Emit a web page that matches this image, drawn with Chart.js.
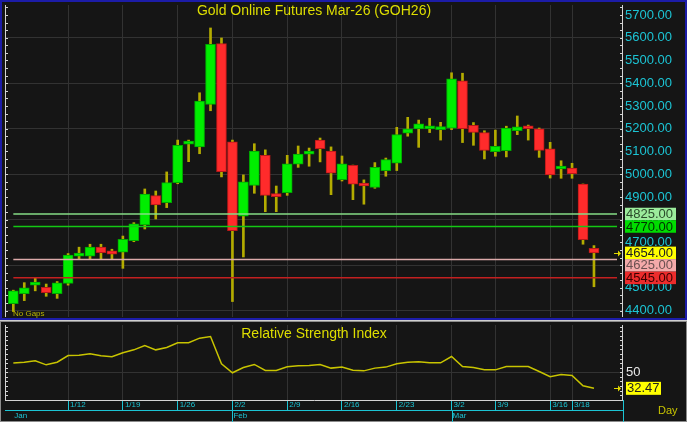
<!DOCTYPE html>
<html>
<head>
<meta charset="utf-8">
<script src="https://cdn.jsdelivr.net/npm/chart.js@4.4.1/dist/chart.umd.min.js"></script>
<style>
  html, body { margin: 0; padding: 0; background: #cfcfcf; width: 687px; height: 422px; overflow: hidden; }
  #frameMain { position: absolute; left: 0; top: 0; width: 683px; height: 316px; border: 2px solid #1c1ca8; background: #151515; }
  #frameRsi { position: absolute; left: 0; top: 321px; width: 685px; height: 99px; border: 1px solid #8c8c8c; background: #151515; }
  canvas { position: absolute; left: 0; }
  #mainChart { top: 0; }
  #rsiChart { top: 320px; }
</style>
</head>
<body>
<div id="frameMain"></div>
<div id="frameRsi"></div>
<canvas id="mainChart" width="687" height="320"></canvas>
<canvas id="rsiChart" width="687" height="102"></canvas>
<script>
/* ============================================================
   Gold Online Futures Mar-26 — daily candles + RSI
   ============================================================ */

const FONT = '"Liberation Sans", Arial, sans-serif';
const CYAN = '#1cc4d4';
const GRID = '#323232';
const AXIS = '#d4d4d4';

const chartTitle = 'Gold Online Futures Mar-26 (GOH26)';
const rsiTitle = 'Relative Strength Index';

// time axis
const weekLabels = ['1/12', '1/19', '1/26', '2/2', '2/9', '2/16', '2/23', '3/2', '3/9', '3/16', '3/18'];
const weekIdx    = [5, 10, 15, 20, 25, 30, 35, 40, 44, 49, 51];
const monthLabels = ['Jan', 'Feb', 'Mar'];
const monthIdx    = [0, 20, 40];

// daily OHLC
const opens  = [4431, 4475, 4512, 4503, 4475, 4520, 4640, 4639, 4679, 4663, 4657, 4708, 4777, 4906, 4875, 4963, 5132, 5120, 5307, 5574,
                5142, 4815, 4951, 5083, 4907, 4919, 5044, 5088, 5150, 5102, 4976, 5039, 4958, 4942, 5016, 5048, 5180, 5199, 5199, 5196,
                5202, 5411, 5215, 5183, 5099, 5103, 5191, 5206, 5199, 5111, 5023, 5027, 4956, 4674];
const highs  = [4490, 4523, 4544, 4517, 4528, 4651, 4679, 4692, 4692, 4670, 4728, 4787, 4935, 4926, 5010, 5150, 5150, 5358, 5643, 5599,
                5150, 4997, 5134, 5107, 4948, 5083, 5124, 5115, 5159, 5120, 5080, 5040, 4975, 5051, 5071, 5206, 5250, 5238, 5246, 5228,
                5446, 5444, 5227, 5191, 5194, 5211, 5256, 5216, 5203, 5140, 5059, 5048, 4957, 4686];
const lows   = [4396, 4444, 4487, 4463, 4454, 4512, 4626, 4627, 4626, 4626, 4586, 4703, 4759, 4803, 4853, 4958, 5055, 5090, 5279, 4988,
                4440, 4636, 4916, 4835, 4835, 4907, 5030, 5035, 5054, 4910, 4970, 4888, 4868, 4938, 4991, 5016, 5167, 5118, 5183, 5150,
                5196, 5139, 5127, 5067, 5079, 5076, 5174, 5150, 5074, 4983, 4982, 4982, 4692, 4505];
const closes = [4487, 4500, 4514, 4479, 4522, 4644, 4643, 4679, 4655, 4648, 4714, 4782, 4912, 4865, 4963, 5127, 5142, 5322, 5571, 5011,
                4752, 4966, 5102, 4907, 4901, 5046, 5088, 5098, 5112, 5004, 5046, 4956, 4948, 5030, 5064, 5174, 5199, 5222, 5213, 5203,
                5419, 5200, 5184, 5105, 5123, 5203, 5208, 5200, 5105, 4997, 5026, 5002, 4712, 4654];

// RSI(14)
const rsi = [60.1, 61.1, 62.6, 58.2, 61.1, 68.4, 68.8, 70.3, 68.1, 67.0, 71.4, 74.6, 79.4, 74.6, 77.2, 82.3, 82.3, 87.4, 89.2, 59.3,
             49.5, 55.3, 58.6, 52.0, 52.0, 56.0, 57.1, 57.5, 58.6, 54.6, 55.7, 52.2, 51.6, 54.6, 55.7, 59.3, 61.1, 61.5, 60.4, 60.4,
             67.3, 56.4, 55.3, 52.7, 52.7, 56.4, 56.4, 56.4, 50.9, 45.1, 47.6, 46.5, 35.2, 32.47];

// price axis + marked levels
const priceTicks = [4400, 4500, 4600, 4700, 4800, 4900, 5000, 5100, 5200, 5300, 5400, 5500, 5600, 5700];
const levels     = [4825, 4770, 4625, 4545];
const levelLine  = ['#86dc86', '#14c814', '#dcaaaa', '#c42020'];
const levelBox   = ['#9cec9c', '#00dc00', '#f4aaaa', '#ec2c2c'];
const levelText  = ['#2a4a2a', '#003000', '#6a5050', '#3a0000'];
const rsiTicks   = [50];

const X_MIN = -0.76, X_MAX = 55.65;
const idx = closes.map((_, i) => i);
const isUp = (i) => closes[i] >= opens[i];

Chart.defaults.font.family = FONT;

// keep the plot area exactly where the layout padding puts it
function noScalePadding(s) {
  s.paddingTop = 0;
  s.paddingBottom = 0;
  s.paddingLeft = 0;
  s.paddingRight = 0;
}

function drawArrow(ctx, x, y) {
  ctx.save();
  ctx.strokeStyle = '#e0d800';
  ctx.fillStyle = '#e0d800';
  ctx.lineWidth = 1;
  ctx.beginPath(); ctx.moveTo(x - 5, y + 0.5); ctx.lineTo(x, y + 0.5); ctx.stroke();
  ctx.beginPath(); ctx.moveTo(x + 2, y + 0.5); ctx.lineTo(x - 1, y - 2.5); ctx.lineTo(x - 1, y + 3.5); ctx.closePath(); ctx.fill();
  ctx.restore();
}

function drawSideAxes(ctx, a, scale, from, step) {
  ctx.save();
  ctx.strokeStyle = AXIS;
  ctx.lineWidth = 1;
  ctx.beginPath();
  ctx.moveTo(a.left + 0.5, a.top); ctx.lineTo(a.left + 0.5, a.bottom);
  ctx.moveTo(a.right - 0.5, a.top); ctx.lineTo(a.right - 0.5, a.bottom);
  for (let v = from; v <= scale.max; v += step) {
    if (v < scale.min) continue;
    const py = Math.round(scale.getPixelForValue(v)) + 0.5;
    ctx.moveTo(a.left, py); ctx.lineTo(a.left + 3, py);
    ctx.moveTo(a.right - 3, py); ctx.lineTo(a.right, py);
  }
  ctx.stroke();
  ctx.restore();
}

const mainDeco = {
  id: 'mainDeco',
  afterDatasetsDraw(chart) {
    const { ctx, chartArea: a, scales: { x, y } } = chart;
    ctx.save();
    ctx.lineWidth = 1.5;
    levels.forEach((v, k) => {
      const py = y.getPixelForValue(v);
      ctx.strokeStyle = levelLine[k];
      ctx.beginPath();
      ctx.moveTo(x.getPixelForValue(0), py);
      ctx.lineTo(a.right - 6, py);
      ctx.stroke();
    });
    ctx.restore();
  },
  afterDraw(chart) {
    const { ctx, chartArea: a, scales: { y } } = chart;
    drawSideAxes(ctx, a, y, priceTicks[0] - 100, 100 / 3);

    ctx.save();
    ctx.fillStyle = '#dede00';
    ctx.font = '14px ' + FONT;
    ctx.textAlign = 'center';
    ctx.textBaseline = 'middle';
    ctx.fillText(chartTitle, (a.left + a.right) / 2, 11);

    ctx.fillStyle = '#b8b400';
    ctx.font = '8px ' + FONT;
    ctx.textAlign = 'left';
    ctx.fillText('No Gaps', 13, a.bottom - 3);

    // value tags on the price axis
    const last = closes.length - 1;
    const tags = levels.map((v, k) => ({ v, bg: levelBox[k], fg: levelText[k] }));
    tags.push({ v: closes[last], bg: '#ffff00', fg: '#202020' });
    tags.sort((p, q) => q.v - p.v);
    let prevBottom = -Infinity;
    ctx.font = '13px ' + FONT;
    tags.forEach((t) => {
      let top = y.getPixelForValue(t.v) - 6.25;
      if (top < prevBottom) top = prevBottom;
      ctx.fillStyle = t.bg;
      ctx.fillRect(a.right + 2, top, 51, 12.5);
      ctx.fillStyle = t.fg;
      ctx.fillText(t.v.toFixed(2), a.right + 3, top + 6.75);
      prevBottom = top + 12.5;
    });
    ctx.restore();

    drawArrow(ctx, a.right - 4, Math.round(y.getPixelForValue(closes[last])));
  },
};

new Chart(document.getElementById('mainChart'), {
  type: 'bar',
  data: {
    datasets: [
      {
        label: 'body',
        data: idx.map((i) => ({ x: i, y: [opens[i], closes[i]] })),
        backgroundColor: idx.map((i) => (isUp(i) ? '#00ee00' : '#ff2b2b')),
        borderColor: idx.map((i) => (isUp(i) ? '#00a800' : '#b81818')),
        borderWidth: 1,
        borderSkipped: false,
        barThickness: 10,
        minBarLength: 3,
      },
      {
        label: 'wick',
        data: idx.map((i) => ({ x: i, y: [lows[i], highs[i]] })),
        backgroundColor: '#b4ac00',
        borderWidth: 0,
        barThickness: 2,
      },
    ],
  },
  options: {
    responsive: false,
    animation: false,
    events: [],
    datasets: { bar: { grouped: false } },
    layout: { padding: { left: 5, top: 5, right: 0, bottom: 3 } },
    plugins: { legend: { display: false }, tooltip: { enabled: false } },
    scales: {
      x: {
        type: 'linear',
        offset: false,
        min: X_MIN,
        max: X_MAX,
        afterBuildTicks: (s) => { s.ticks = weekIdx.map((v) => ({ value: v })); },
        afterFit: (s) => { s.height = 0; noScalePadding(s); },
        ticks: { display: false },
        grid: { color: GRID, drawTicks: false, offset: false },
        border: { display: false },
      },
      y: {
        position: 'right',
        min: 4372,
        max: 5744,
        afterBuildTicks: (s) => { s.ticks = priceTicks.map((v) => ({ value: v })); },
        afterFit: (s) => { s.width = 64; noScalePadding(s); },
        ticks: {
          color: CYAN,
          font: { size: 13 },
          padding: 2,
          callback: (v) => Number(v).toFixed(2),
        },
        grid: {
          drawTicks: false,
          color: (c) => (c.tick && c.tick.value % 200 === 0 ? GRID : 'transparent'),
        },
        border: { display: false },
      },
    },
  },
  plugins: [mainDeco],
});

const rsiDeco = {
  id: 'rsiDeco',
  afterDraw(chart) {
    const { ctx, chartArea: a, scales: { x, y } } = chart;
    drawSideAxes(ctx, a, y, 20, 5);

    ctx.save();
    ctx.fillStyle = '#dede00';
    ctx.font = '14px ' + FONT;
    ctx.textAlign = 'center';
    ctx.textBaseline = 'middle';
    ctx.fillText(rsiTitle, (a.left + a.right) / 2, 14);

    // time axis rails and month labels
    ctx.strokeStyle = CYAN;
    ctx.lineWidth = 1;
    ctx.beginPath();
    ctx.moveTo(a.left, a.bottom + 10.5); ctx.lineTo(a.right, a.bottom + 10.5);
    ctx.moveTo(a.right + 0.5, a.bottom); ctx.lineTo(a.right + 0.5, a.bottom + 22);
    monthIdx.forEach((m) => {
      if (m === 0) return;
      const px = Math.round(x.getPixelForValue(m)) + 0.5;
      ctx.moveTo(px, a.bottom + 10); ctx.lineTo(px, a.bottom + 22);
    });
    ctx.stroke();

    ctx.fillStyle = CYAN;
    ctx.font = '8px ' + FONT;
    ctx.textAlign = 'left';
    monthLabels.forEach((m, k) => {
      ctx.fillText(m, x.getPixelForValue(monthIdx[k]) + 1, a.bottom + 16);
    });

    ctx.fillStyle = '#c8c400';
    ctx.font = '11px ' + FONT;
    ctx.fillText('Day', a.right + 35, a.bottom + 11);

    // last RSI value tag
    const lastRsi = rsi[rsi.length - 1];
    const py = y.getPixelForValue(lastRsi);
    ctx.fillStyle = '#ffff00';
    ctx.fillRect(a.right + 3, py - 6.5, 35, 13);
    ctx.fillStyle = '#202020';
    ctx.font = '13px ' + FONT;
    ctx.fillText(lastRsi.toFixed(2), a.right + 4, py + 0.5);
    ctx.restore();

    drawArrow(ctx, a.right - 4, Math.round(py));
  },
};

new Chart(document.getElementById('rsiChart'), {
  type: 'line',
  data: {
    datasets: [{
      label: 'RSI',
      data: idx.map((i) => ({ x: i, y: rsi[i] })),
      borderColor: '#c8c400',
      borderWidth: 1.5,
      pointRadius: 0,
      tension: 0,
    }],
  },
  options: {
    responsive: false,
    animation: false,
    events: [],
    layout: { padding: { left: 5, top: 5, right: 0, bottom: 0 } },
    plugins: { legend: { display: false }, tooltip: { enabled: false } },
    scales: {
      x: {
        type: 'linear',
        offset: false,
        min: X_MIN,
        max: X_MAX,
        afterBuildTicks: (s) => { s.ticks = weekIdx.map((v) => ({ value: v })); },
        afterFit: (s) => { s.height = 22; noScalePadding(s); },
        ticks: {
          color: CYAN,
          font: { size: 8 },
          align: 'start',
          labelOffset: 2,
          padding: -10,
          autoSkip: false,
          maxRotation: 0,
          callback: (v, i) => weekLabels[i],
        },
        grid: { color: GRID, tickColor: CYAN, tickLength: 10, offset: false },
        border: { display: true, color: AXIS },
      },
      y: {
        position: 'right',
        min: 19.7,
        max: 101.8,
        afterBuildTicks: (s) => { s.ticks = rsiTicks.map((v) => ({ value: v })); },
        afterFit: (s) => { s.width = 64; noScalePadding(s); },
        ticks: { color: '#e8e8e8', font: { size: 13 }, padding: 3 },
        grid: { color: GRID, drawTicks: false },
        border: { display: false },
      },
    },
  },
  plugins: [rsiDeco],
});
</script>
</body>
</html>
